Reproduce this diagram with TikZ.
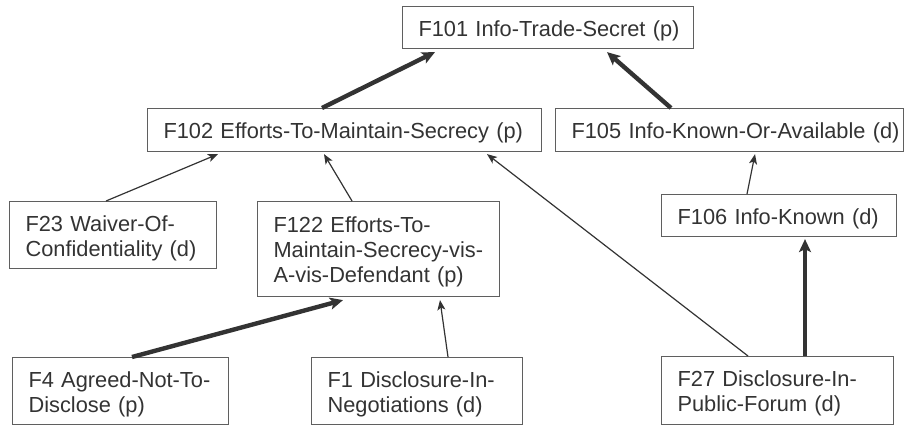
\documentclass[tikz,border=0pt]{standalone}
\usepackage{fontspec}
\setmainfont{Liberation Sans}
\usetikzlibrary{arrows.meta}
\definecolor{ink}{HTML}{333333}
\definecolor{frame}{HTML}{5F5F5F}
\begin{document}
\begin{tikzpicture}[x=1pt,y=-1pt,
  factor/.style={draw=frame, line width=1.1pt, anchor=north west, inner sep=0pt,
    text=ink, align=left, font=\fontsize{21.8pt}{24.8pt}\selectfont,
    execute at begin node={\leftskip=16pt\rule{0pt}{22pt}}},
  weak/.style={draw=ink, line width=1.2pt, -{Stealth[length=10pt,width=8pt,inset=2.5pt]}},
  strong/.style={draw=ink, line width=4.4pt, -{Stealth[length=13pt,width=12pt,inset=3pt]}}]
\useasboundingbox (0,0) rectangle (904,426);

% factor boxes
\node[factor, text width=291pt, minimum height=42pt] (f101) at (402,6) {F101 Info-Trade-Secret (p)};
\node[factor, text width=394pt, minimum height=43pt] (f102) at (147,108) {F102 Efforts-To-Maintain-Secrecy (p)};
\node[factor, text width=348pt, minimum height=43pt] (f105) at (555,108) {F105 Info-Known-Or-Available (d)};
\node[factor, text width=207pt, minimum height=67pt] (f23) at (9,201) {F23 Waiver-Of-\\Confidentiality (d)};
\node[factor, text width=242pt, minimum height=95pt] (f122) at (257,201) {F122 Efforts-To-\\Maintain-Secrecy-vis-\\A-vis-Defendant (p)};
\node[factor, text width=235pt, minimum height=42pt] (f106) at (661,194) {F106 Info-Known (d)};
\node[factor, text width=216pt, minimum height=67pt] (f4) at (12,357) {F4 Agreed-Not-To-\\Disclose (p)};
\node[factor, text width=211pt, minimum height=67pt] (f1) at (311,357) {F1 Disclosure-In-\\Negotiations (d)};
\node[factor, text width=232pt, minimum height=68pt] (f27) at (661,356) {F27 Disclosure-In-\\Public-Forum (d)};

% support links
\draw[strong] ([xshift=175pt]f102.north west) -- ([xshift=33pt,yshift=-3pt]f101.south west);
\draw[strong] ([xshift=116pt]f105.north west) -- ([xshift=205pt,yshift=-3pt]f101.south west);
\draw[weak] ([xshift=97pt]f23.north west) -- ([xshift=71pt,yshift=-2pt]f102.south west);
\draw[weak] ([xshift=95pt]f122.north west) -- ([xshift=177pt,yshift=-2pt]f102.south west);
\draw[weak] ([xshift=87pt]f27.north west) -- ([xshift=340pt,yshift=-2pt]f102.south west);
\draw[weak] ([xshift=86pt]f106.north west) -- ([xshift=200pt,yshift=-2pt]f105.south west);
\draw[strong] ([xshift=144pt]f27.north west) -- ([xshift=144pt,yshift=-2pt]f106.south west);
\draw[strong] ([xshift=120pt]f4.north west) -- ([xshift=86pt,yshift=-3pt]f122.south west);
\draw[weak] ([xshift=137pt]f1.north west) -- ([xshift=183pt,yshift=-3pt]f122.south west);
\end{tikzpicture}
\end{document}
